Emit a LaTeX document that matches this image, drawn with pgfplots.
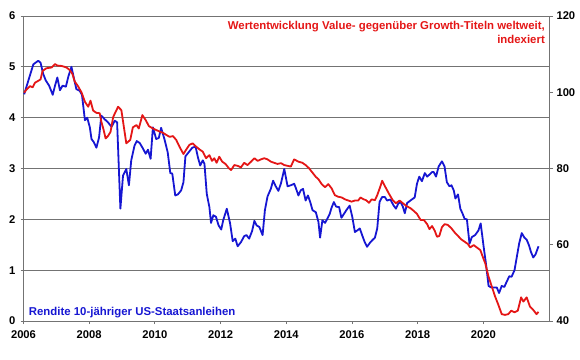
\documentclass[border=0pt]{standalone}
\usepackage{fontspec}
\setmainfont{Liberation Sans}
\usepackage{pgfplots}
\usepackage{pgfplotstable}
\pgfplotsset{compat=1.18}
\definecolor{lred}{RGB}{228,22,22}
\definecolor{lblue}{RGB}{22,22,210}
\definecolor{gridc}{RGB}{115,115,115}

\pgfplotstableread{
x y
2006.02 4.46
2006.30 5.05
2006.45 5.12
2006.52 5.08
2006.60 4.86
2006.68 4.73
2006.78 4.63
2006.89 4.45
2006.96 4.63
2007.03 4.79
2007.11 4.54
2007.19 4.63
2007.29 4.61
2007.37 4.82
2007.46 5.00
2007.53 4.79
2007.61 4.56
2007.71 4.53
2007.78 4.45
2007.87 3.95
2007.94 4.00
2008.02 3.81
2008.07 3.58
2008.14 3.52
2008.22 3.41
2008.30 3.61
2008.37 4.04
2008.47 3.97
2008.57 3.91
2008.68 3.82
2008.78 3.94
2008.85 3.91
2008.95 2.21
2009.03 2.86
2009.13 2.99
2009.21 2.67
2009.28 3.16
2009.38 3.45
2009.45 3.54
2009.54 3.50
2009.64 3.39
2009.72 3.29
2009.79 3.37
2009.87 3.19
2009.94 3.81
2010.04 3.58
2010.12 3.60
2010.19 3.80
2010.29 3.58
2010.39 3.32
2010.47 2.91
2010.53 2.90
2010.62 2.47
2010.70 2.49
2010.80 2.57
2010.87 2.73
2010.93 3.24
2011.03 3.32
2011.14 3.41
2011.24 3.43
2011.31 3.22
2011.38 3.06
2011.46 3.16
2011.51 3.09
2011.58 2.50
2011.66 2.24
2011.71 1.93
2011.78 2.08
2011.86 2.05
2011.94 1.88
2012.02 1.80
2012.08 1.98
2012.19 2.21
2012.29 1.92
2012.37 1.57
2012.45 1.62
2012.52 1.47
2012.62 1.55
2012.72 1.67
2012.79 1.69
2012.87 1.62
2012.96 1.77
2013.03 1.97
2013.10 1.88
2013.18 1.85
2013.28 1.69
2013.35 2.18
2013.43 2.45
2013.53 2.60
2013.60 2.76
2013.68 2.65
2013.76 2.56
2013.84 2.71
2013.94 2.99
2014.04 2.65
2014.14 2.67
2014.24 2.70
2014.29 2.62
2014.37 2.47
2014.44 2.57
2014.51 2.60
2014.59 2.37
2014.66 2.47
2014.73 2.34
2014.80 2.18
2014.90 2.14
2014.98 1.95
2015.03 1.64
2015.10 1.98
2015.18 1.93
2015.25 2.01
2015.32 2.10
2015.38 2.23
2015.45 2.34
2015.52 2.25
2015.61 2.24
2015.68 2.03
2015.76 2.11
2015.83 2.18
2015.93 2.27
2016.01 2.05
2016.09 1.75
2016.16 1.78
2016.24 1.82
2016.31 1.69
2016.39 1.55
2016.46 1.46
2016.55 1.54
2016.62 1.59
2016.70 1.64
2016.77 1.82
2016.84 2.34
2016.92 2.44
2017.00 2.44
2017.07 2.37
2017.17 2.39
2017.27 2.27
2017.34 2.21
2017.41 2.31
2017.48 2.34
2017.55 2.25
2017.61 2.12
2017.68 2.32
2017.78 2.37
2017.91 2.43
2017.98 2.70
2018.05 2.84
2018.13 2.75
2018.22 2.91
2018.29 2.84
2018.36 2.88
2018.44 2.93
2018.49 2.93
2018.56 2.84
2018.64 3.04
2018.74 3.14
2018.82 3.04
2018.89 2.73
2018.97 2.65
2019.03 2.67
2019.10 2.57
2019.15 2.41
2019.23 2.49
2019.30 2.21
2019.37 2.11
2019.43 2.01
2019.50 2.00
2019.58 1.52
2019.65 1.65
2019.75 1.69
2019.85 1.78
2019.92 1.92
2020.01 1.46
2020.08 1.13
2020.16 0.69
2020.24 0.66
2020.34 0.66
2020.41 0.66
2020.48 0.55
2020.56 0.69
2020.64 0.67
2020.71 0.77
2020.79 0.88
2020.86 0.87
2020.95 1.00
2021.02 1.26
2021.09 1.52
2021.17 1.73
2021.25 1.64
2021.32 1.60
2021.39 1.49
2021.45 1.36
2021.52 1.25
2021.59 1.31
2021.68 1.47
}\yieldtable

\pgfplotstableread{
x y
2006.02 99.9
2006.10 100.8
2006.20 101.6
2006.28 101.3
2006.35 102.5
2006.45 103.0
2006.52 103.4
2006.58 105.6
2006.70 106.3
2006.86 106.5
2006.96 107.4
2007.03 107.0
2007.16 106.9
2007.31 106.5
2007.41 105.8
2007.49 104.8
2007.56 102.8
2007.66 101.6
2007.77 99.9
2007.87 97.5
2007.97 96.2
2008.04 97.8
2008.12 95.2
2008.22 94.6
2008.32 94.5
2008.37 92.3
2008.44 90.1
2008.50 87.9
2008.57 88.5
2008.65 89.6
2008.73 93.5
2008.88 96.2
2008.98 95.3
2009.13 86.6
2009.25 87.5
2009.33 90.8
2009.44 91.4
2009.51 90.5
2009.62 94.0
2009.72 92.7
2009.82 91.1
2009.94 90.5
2010.04 90.1
2010.14 89.7
2010.24 89.4
2010.35 88.8
2010.45 88.3
2010.55 88.5
2010.65 87.5
2010.75 85.7
2010.87 83.8
2010.95 84.9
2011.05 86.2
2011.15 86.6
2011.26 85.7
2011.36 85.0
2011.46 84.4
2011.56 82.7
2011.66 83.5
2011.74 82.0
2011.81 82.7
2011.88 81.5
2011.96 83.1
2012.05 81.8
2012.15 81.2
2012.25 80.1
2012.32 79.6
2012.42 80.9
2012.52 80.7
2012.62 80.3
2012.72 81.5
2012.82 80.9
2012.93 81.8
2013.03 82.7
2013.13 82.0
2013.23 82.4
2013.33 82.7
2013.43 82.4
2013.53 81.8
2013.63 81.5
2013.73 81.2
2013.84 81.4
2013.94 80.9
2014.04 80.7
2014.14 80.5
2014.24 82.4
2014.37 81.8
2014.49 81.5
2014.59 80.9
2014.69 80.1
2014.80 78.9
2014.90 77.8
2014.98 77.2
2015.08 75.9
2015.18 75.1
2015.28 75.9
2015.38 74.8
2015.48 73.0
2015.58 72.6
2015.69 72.4
2015.79 71.9
2015.89 71.6
2015.99 71.3
2016.09 71.6
2016.19 71.6
2016.26 72.4
2016.36 71.9
2016.43 71.7
2016.52 71.0
2016.60 71.9
2016.70 71.7
2016.77 73.0
2016.87 75.4
2016.92 76.8
2017.02 75.1
2017.12 73.5
2017.24 71.7
2017.34 70.9
2017.45 71.6
2017.55 70.9
2017.65 70.2
2017.78 69.6
2017.88 68.9
2017.98 68.1
2018.09 66.5
2018.19 66.5
2018.29 65.4
2018.36 64.1
2018.44 64.9
2018.52 63.7
2018.59 62.1
2018.66 62.3
2018.74 64.6
2018.82 65.4
2018.92 65.2
2019.03 64.3
2019.13 63.2
2019.23 62.3
2019.33 61.4
2019.43 60.8
2019.53 60.2
2019.60 59.3
2019.67 59.7
2019.71 59.9
2019.80 59.3
2019.91 58.6
2019.98 56.9
2020.06 55.1
2020.16 51.6
2020.26 49.0
2020.36 46.4
2020.46 44.2
2020.56 41.8
2020.66 41.6
2020.76 41.8
2020.85 42.7
2020.95 42.3
2021.05 42.7
2021.15 46.2
2021.22 45.1
2021.32 46.2
2021.42 43.8
2021.52 42.9
2021.62 41.8
2021.68 42.4
}\valuetable

\begin{document}
\begin{tikzpicture}
\useasboundingbox (-23.5pt,-38pt) rectangle (556.5pt,321pt);
\pgfplotsset{every axis/.append style={
  scale only axis, width=525.5pt, height=305pt,
  xmin=2006, xmax=2022,
  /pgf/number format/assume math mode=true,
  /pgf/number format/1000 sep={},
  tick label style={font=\fontsize{11.2}{13}\selectfont\bfseries},
  axis line style={gridc, line width=0.8pt},
  tick style={gridc, line width=0.8pt},
}}
\begin{axis}[at={(0,0)}, anchor=south west,
  ymin=0, ymax=6, ytick={0,1,...,6},
  xtick={2006,2008,...,2020},
  axis x line*=bottom, axis y line*=left,
  ymajorgrids, grid style={gridc, line width=0.8pt},
  tick align=outside, major tick length=3pt,
  yticklabel style={xshift=-1.5pt},
  xticklabel style={inner sep=0pt, yshift=-6pt},
]
\addplot[lblue, line width=1.8pt, line join=round] table[x=x,y=y] {\yieldtable};
\node[anchor=base west, text=lblue, font=\fontsize{11.4}{13}\selectfont\bfseries, inner sep=0pt]
  at (rel axis cs:0,0) [xshift=5.2pt, yshift=5.5pt] {Rendite 10-jähriger US-Staatsanleihen};
\node[anchor=base east, text=black, font=\fontsize{11.4}{13}\selectfont\bfseries, inner sep=0pt]
  at (rel axis cs:1,0) [xshift=28.7pt, yshift=-29.5pt] {Quelle: MSCI, JPMorgan, Refinitiv, Baader Bank Kapitalmarktanalyse};
\end{axis}
\begin{axis}[at={(0,0)}, anchor=south west,
  ymin=40, ymax=120, ytick={40,60,...,120},
  axis x line=none, axis y line*=right,
  tick align=outside, major tick length=4pt,
]
\addplot[lred, line width=1.8pt, line join=round] table[x=x,y=y] {\valuetable};
\node[anchor=base east, text=lred, font=\fontsize{11.4}{13}\selectfont\bfseries, inner sep=0pt]
  at (rel axis cs:1,1) [xshift=-4pt, yshift=-13.5pt] {Wertentwicklung Value- gegenüber Growth-Titeln weltweit,};
\node[anchor=base east, text=lred, font=\fontsize{11.4}{13}\selectfont\bfseries, inner sep=0pt]
  at (rel axis cs:1,1) [xshift=-4pt, yshift=-27pt] {indexiert};
\end{axis}
\end{tikzpicture}
\end{document}
